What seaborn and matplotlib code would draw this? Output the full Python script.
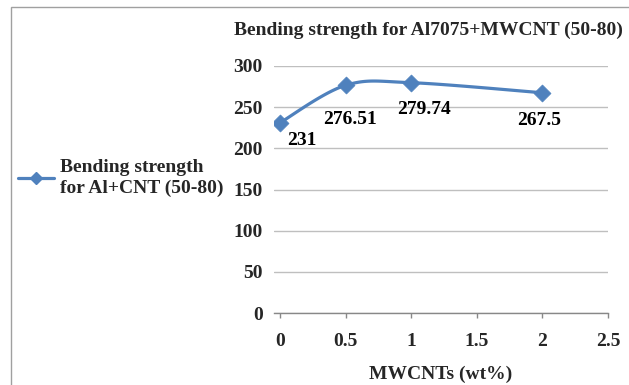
import numpy as np
import pandas as pd
import matplotlib
matplotlib.use("Agg")
import matplotlib.pyplot as plt
from matplotlib.lines import Line2D
from matplotlib.patches import Rectangle
import seaborn as sns

# ---- data ----
mwcnt_wt = [0, 0.5, 1, 2]
bending_strength = [231, 276.51, 279.74, 267.5]
value_labels = ["231", "276.51", "279.74", "267.5"]
x_ticks = [0, 0.5, 1, 1.5, 2, 2.5]
y_ticks = [0, 50, 100, 150, 200, 250, 300]
title = "Bending strength for Al7075+MWCNT (50-80)"
series_name = "Bending strength\nfor Al+CNT (50-80)"
x_label = "MWCNTs (wt%)"

sns.set_theme(style="white")
plt.rcParams["font.family"] = ["Liberation Serif", "DejaVu Serif"]
plt.rcParams["font.weight"] = "bold"

BLUE = "#4F81BD"
GRID = "#BFBFBF"
AXC = "#888888"
FS = 14

fig = plt.figure(figsize=(6.29, 3.85), dpi=100)
ax = fig.add_axes([274 / 629, 1 - 313 / 385, (608 - 274) / 629, (313 - 66) / 385])

# Excel-style smoothed line (Catmull-Rom Bezier through the data points)
px = np.array(mwcnt_wt, float)
py = np.array(bending_strength, float)
P = np.column_stack([px, py])
n = len(P)
curve = []
t = np.linspace(0, 1, 40)
for i in range(n - 1):
    p0 = P[max(i - 1, 0)]
    p1 = P[i]
    p2 = P[i + 1]
    p3 = P[min(i + 2, n - 1)]
    c1 = p1 + (p2 - p0) / 6.0
    c2 = p2 - (p3 - p1) / 6.0
    seg = ((1 - t) ** 3)[:, None] * p1 + (3 * (1 - t) ** 2 * t)[:, None] * c1 \
        + (3 * (1 - t) * t ** 2)[:, None] * c2 + (t ** 3)[:, None] * p2
    curve.append(seg if i == 0 else seg[1:])
curve = np.vstack(curve)
cdf = pd.DataFrame({"x": curve[:, 0], "y": curve[:, 1]})
sns.lineplot(data=cdf, x="x", y="y", sort=False, ax=ax, color=BLUE, linewidth=2.3, zorder=3)

df = pd.DataFrame({"x": mwcnt_wt, "y": bending_strength})
sns.scatterplot(data=df, x="x", y="y", ax=ax, marker="D", s=75, color=BLUE,
                edgecolor=BLUE, linewidth=0.5, zorder=4)

offsets = [(22, -18), (4, -34), (13, -27), (-3, -28)]
for xv, yv, lab, off in zip(mwcnt_wt, bending_strength, value_labels, offsets):
    ax.annotate(lab, (xv, yv), xytext=off, textcoords="offset pixels",
                ha="center", va="center", fontsize=FS, fontweight="bold", color="black")

ax.set_xlim(-0.045, 2.5)
ax.set_ylim(0, 300)
ax.set_xticks(x_ticks)
ax.set_xticklabels([f"{v:g}" for v in x_ticks])
ax.set_yticks(y_ticks)
ax.set_yticklabels([str(v) for v in y_ticks])
ax.yaxis.grid(True, color=GRID, linewidth=1.0)
ax.set_axisbelow(True)
for s in ["top", "right", "left"]:
    ax.spines[s].set_visible(False)
ax.spines["bottom"].set_color(AXC)
ax.spines["bottom"].set_linewidth(1.0)
ax.tick_params(axis="x", bottom=True, length=3.6, width=1, color=AXC, pad=11,
               labelsize=FS)
ax.tick_params(axis="y", left=False, length=0, pad=8, labelsize=FS)
for lab in ax.get_xticklabels() + ax.get_yticklabels():
    lab.set_fontweight("bold")
ax.set_xlabel(x_label, fontsize=FS, fontweight="bold", labelpad=11)
ax.set_ylabel("")

fig.text(428 / 629, 1 - 30 / 385, title, ha="center", va="center",
         fontsize=FS, fontweight="bold")

handle = Line2D([0], [0], color=BLUE, linewidth=2.3, marker="D", markersize=6.5,
                markerfacecolor=BLUE, markeredgecolor=BLUE)
leg = fig.legend([handle], [series_name], loc="center left",
                 bbox_to_anchor=(10 / 629, 1 - 178 / 385), frameon=False,
                 prop={"size": FS, "weight": "bold"}, handlelength=1.85,
                 handletextpad=0.3, borderaxespad=0, labelspacing=0.2)
for txt in leg.get_texts():
    txt.set_linespacing(1.35)

fig.patches.append(Rectangle((11 / 629, -0.1), 1.2, 1.1 - 7 / 385,
                             transform=fig.transFigure, fill=False,
                             edgecolor="#A0A0A0", linewidth=1.0))

fig.savefig("out.png", dpi=100)
